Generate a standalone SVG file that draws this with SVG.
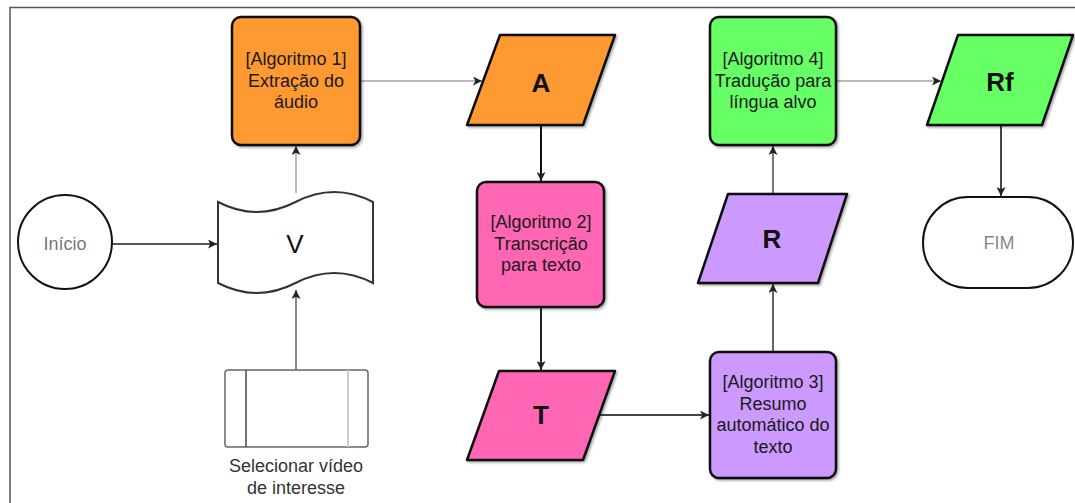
<svg xmlns="http://www.w3.org/2000/svg" width="1075" height="503" viewBox="0 0 1075 503">
<defs>
<marker id="arr" viewBox="0 0 10 10" refX="10" refY="5" markerWidth="9" markerHeight="9" markerUnits="userSpaceOnUse" orient="auto">
<path d="M0,0 L10,5 L0,10 L2.5,5 Z" fill="#222"/>
</marker>
<filter id="sh" x="-10%" y="-10%" width="120%" height="120%">
<feDropShadow dx="1.5" dy="1.5" stdDeviation="1" flood-color="#000" flood-opacity="0.35"/>
</filter>
</defs>
<style>
.box{stroke:#111;stroke-width:2.5;filter:url(#sh)}
.par{stroke:#111;stroke-width:2.5;stroke-linejoin:round;filter:url(#sh)}
.t{font-family:"Liberation Sans",Arial,sans-serif;font-size:18px;fill:#1a1a1a;text-anchor:middle}
.big{font-family:"Liberation Sans",Arial,sans-serif;font-size:26px;font-weight:bold;fill:#111;text-anchor:middle}
.c{fill:none;stroke-width:2;marker-end:url(#arr)}
</style>
<rect width="1075" height="503" fill="#fff"/>
<path d="M10,503 L10,7.5 L1075,7.5" fill="none" stroke="#555" stroke-width="1.5"/>

<g id="connectors">
<path class="c" stroke="#555" d="M112,244 L217,244"/>
<path class="c" stroke="#888" d="M296,370 L296,290"/>
<path class="c" stroke="#bbb" d="M296,193 L296,146"/>
<path class="c" stroke="#bbb" d="M361,81 L482,81"/>
<path class="c" stroke="#111" d="M541,126 L541,181"/>
<path class="c" stroke="#222" d="M541,308 L541,370"/>
<path class="c" stroke="#444" d="M600,415 L709,415"/>
<path class="c" stroke="#666" d="M773,351 L773,284"/>
<path class="c" stroke="#777" d="M773,193 L773,146"/>
<path class="c" stroke="#bbb" d="M837,81 L941,81"/>
<path class="c" stroke="#444" d="M1001,126 L1001,196"/>
</g>

<g id="inicio">
<circle cx="65" cy="242" r="47" fill="#fff" stroke="#111" stroke-width="2"/>
<text class="t" x="65" y="250" style="fill:#777">Início</text>
</g>

<g id="v">
<path d="M218,202 Q256.75,222 295.5,202 T373,202 L373,283 Q334.25,263 295.5,283 T218,283 Z" fill="#fff" stroke="#333" stroke-width="2"/>
<text x="295" y="253" font-family="'Liberation Sans',Arial,sans-serif" font-size="26" fill="#111" text-anchor="middle">V</text>
</g>

<g id="selecionar">
<rect x="225" y="370" width="143" height="77" rx="3" fill="#fff" stroke="#666" stroke-width="1.5"/>
<line x1="246" y1="370" x2="246" y2="447" stroke="#444" stroke-width="1.5"/>
<line x1="348" y1="370" x2="348" y2="447" stroke="#ccc" stroke-width="2"/>
<text class="t" x="296" y="472" style="fill:#333"><tspan x="296">Selecionar vídeo</tspan><tspan x="296" dy="22">de interesse</tspan></text>
</g>

<g id="alg1">
<rect class="box" x="232" y="17" width="128" height="128" rx="9" fill="#FF9933"/>
<text class="t" x="296" y="65"><tspan x="296">[Algoritmo 1]</tspan><tspan x="296" dy="21.5">Extração do</tspan><tspan x="296" dy="21.5">áudio</tspan></text>
</g>

<g id="a">
<path class="par" d="M500,35 L615,35 L583,125 L467,125 Z" fill="#FF9933"/>
<text class="big" x="541" y="92">A</text>
</g>

<g id="alg2">
<rect class="box" x="477" y="182" width="127" height="125" rx="9" fill="#FF66B3"/>
<text class="t" x="541" y="228"><tspan x="541">[Algoritmo 2]</tspan><tspan x="541" dy="21.5">Transcrição</tspan><tspan x="541" dy="21.5">para texto</tspan></text>
</g>

<g id="t">
<path class="par" d="M499,371 L615,371 L583,460 L467,460 Z" fill="#FF66B3"/>
<text class="big" x="541" y="424">T</text>
</g>

<g id="alg3">
<rect class="box" x="710" y="352" width="126" height="126" rx="9" fill="#CC99FF"/>
<text class="t" x="773" y="388"><tspan x="773">[Algoritmo 3]</tspan><tspan x="773" dy="21.7">Resumo</tspan><tspan x="773" dy="21.7">automático do</tspan><tspan x="773" dy="21.7">texto</tspan></text>
</g>

<g id="r">
<path class="par" d="M728,194 L847,194 L818,283 L698,283 Z" fill="#CC99FF"/>
<text class="big" x="772" y="248">R</text>
</g>

<g id="alg4">
<rect class="box" x="710" y="17" width="126" height="128" rx="9" fill="#66FF66"/>
<text class="t" x="773" y="65"><tspan x="773">[Algoritmo 4]</tspan><tspan x="773" dy="21.5">Tradução para</tspan><tspan x="773" dy="21.5">língua alvo</tspan></text>
</g>

<g id="rf">
<path class="par" d="M958,35 L1073,35 L1042,125 L927,125 Z" fill="#66FF66"/>
<text class="big" x="1000" y="91">Rf</text>
</g>

<g id="fim">
<rect x="923" y="197" width="150" height="91" rx="45" fill="#fff" stroke="#111" stroke-width="2"/>
<text class="t" x="999" y="249" style="fill:#888">FIM</text>
</g>
</svg>
